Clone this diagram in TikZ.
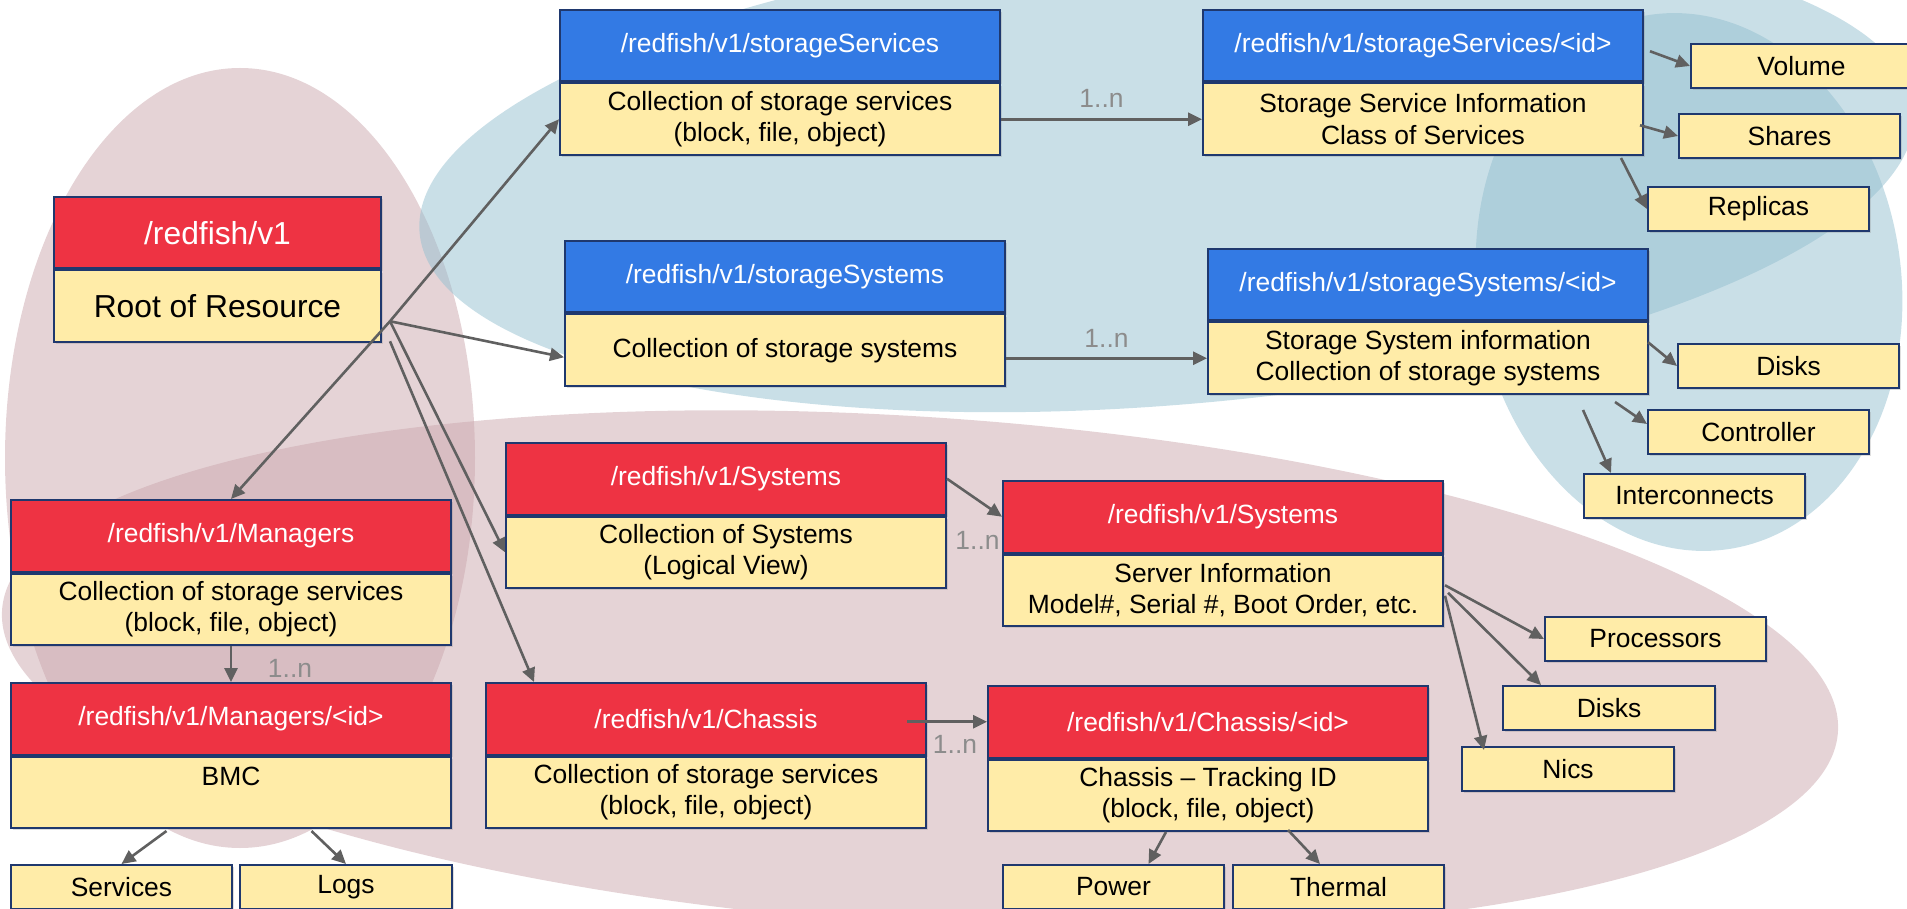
\documentclass[tikz,border=0pt]{standalone}
\usepackage{fontspec}
\setmainfont{Liberation Sans}
\usetikzlibrary{arrows.meta, positioning, shadows}
\definecolor{rfred}{RGB}{238,51,67}
\definecolor{rfblue}{RGB}{51,122,228}
\definecolor{rfbody}{RGB}{255,236,168}
\definecolor{rfedge}{RGB}{31,56,110}
\definecolor{rfline}{RGB}{96,96,96}
\definecolor{rfcount}{RGB}{140,140,140}
\definecolor{bgpink}{RGB}{203,168,174}
\definecolor{bgblue}{RGB}{148,191,207}
\tikzstyle{redfish}=[x=0.5pt, y=-0.5pt, >={Triangle[length=7pt,width=6.5pt]}, font=\fontsize{13.2}{15.8}\selectfont]
\tikzstyle{resbox}=[draw=rfedge, line width=1pt, minimum width=220pt, minimum height=35.75pt, inner sep=2pt, align=center, drop shadow={shadow xshift=1.2pt, shadow yshift=-1.2pt, opacity=.25}]
\tikzstyle{hdr}=[resbox, fill=rfred, text=white, anchor=north west]
\tikzstyle{bluehdr}=[hdr, fill=rfblue]
\tikzstyle{bdy}=[resbox, fill=rfbody]
\tikzstyle{leaf}=[resbox, fill=rfbody, minimum width=110.5pt, minimum height=22pt, anchor=north west]
\tikzstyle{link}=[->, draw=rfline, line width=1.3pt]
\tikzstyle{multi}=[text=rfcount]
\tikzstyle{blob}=[fill opacity=.5]

\begin{document}
\begin{tikzpicture}[redfish]
  \useasboundingbox (0,0) rectangle (1907,909);
  \clip (0,0) rectangle (1907,909);
  % background areas
  \fill[blob, bgpink] (240,458) ellipse [x radius=117.5pt, y radius=195pt];
  \fill[blob, bgpink, rotate around={-3.8:(920,671)}] (920,671) ellipse [x radius=460pt, y radius=127pt];
  \fill[blob, bgblue, rotate around={4.7:(1167,171)}] (1167,171) ellipse [x radius=375pt, y radius=117pt];
  \fill[blob, bgblue, rotate around={8.3:(1689,282)}] (1689,282) ellipse [x radius=106pt, y radius=135pt];

  % resources
  \node[hdr, minimum width=163.5pt, font=\fontsize{15.9}{19}\selectfont] (rooth) at (53,196) {/redfish/v1};
  \node[bdy, minimum width=163.5pt, font=\fontsize{15.9}{19}\selectfont] (root) [below=0pt of rooth] {Root of Resource};

  \node[bluehdr] (svch) at (559,9) {/redfish/v1/storageServices};
  \node[bdy] (svc) [below=0pt of svch] {Collection of storage services\\(block, file, object)};
  \node[bluehdr] (sysh) at (564,240) {/redfish/v1/storageSystems};
  \node[bdy] (sys) [below=0pt of sysh] {Collection of storage systems};
  \node[bluehdr] (svcidh) at (1202,9) {/redfish/v1/storageServices/<id>};
  \node[bdy] (svcid) [below=0pt of svcidh] {Storage Service Information\\Class of Services};
  \node[bluehdr] (sysidh) at (1207,248) {/redfish/v1/storageSystems/<id>};
  \node[bdy] (sysid) [below=0pt of sysidh] {Storage System information\\Collection of storage systems};

  \node[hdr] (mgrh) at (10,499) {/redfish/v1/Managers};
  \node[bdy] (mgr) [below=0pt of mgrh] {Collection of storage services\\(block, file, object)};
  \node[hdr] (mgridh) at (10,682) {/redfish/v1/Managers/<id>};
  \node[bdy] (mgrid) [below=0pt of mgridh] {BMC\\~};
  \node[hdr] (sysch) at (505,442) {/redfish/v1/Systems};
  \node[bdy] (sysc) [below=0pt of sysch] {Collection of Systems\\(Logical View)};
  \node[hdr] (chash) at (485,682) {/redfish/v1/Chassis};
  \node[bdy] (chas) [below=0pt of chash] {Collection of storage services\\(block, file, object)};
  \node[hdr] (srvh) at (1002,480) {/redfish/v1/Systems};
  \node[bdy] (srv) [below=0pt of srvh] {Server Information\\Model\#, Serial \#, Boot Order, etc.};
  \node[hdr] (chasidh) at (987,685) {/redfish/v1/Chassis/<id>};
  \node[bdy] (chasid) [below=0pt of chasidh] {Chassis \textendash{} Tracking ID\\(block, file, object)};

  % leaves
  \node[leaf] (volume) at (1690,43) {Volume};
  \node[leaf] (shares) at (1678,113) {Shares};
  \node[leaf] (replicas) at (1647,186) {Replicas};
  \node[leaf] (disks) at (1677,343) {Disks};
  \node[leaf] (ctrl) at (1647,409) {Controller};
  \node[leaf] (icon) at (1583,473) {Interconnects};
  \node[leaf] (proc) at (1544,616) {Processors};
  \node[leaf, minimum width=106pt] (disks2) at (1502,685) {Disks};
  \node[leaf, minimum width=106pt] (nics) at (1461,746) {Nics};
  \node[leaf] (services) at (10,864) {Services};
  \node[leaf, minimum width=106pt] (logs) at (239,864) {Logs};
  \node[leaf] (power) at (1002,864) {Power};
  \node[leaf, minimum width=105.5pt] (thermal) at (1232,864) {Thermal};

  % links
  \coordinate (hub) at ([shift={(8,15)}]root.east);
  \coordinate (hub2) at ([shift={(8,35)}]root.east);
  \draw[link] (hub) -- (svc.west);
  \draw[link] (hub) -- (mgrh.north);
  \draw[link] (hub) -- ([shift={(0,7)}]sys.west);
  \draw[link] (hub) -- (sysc.west);
  \draw[link] (hub2) -- ([shift={(49,0)}]chash.north west);
  \draw[link] (svc.east) -- node[multi, yshift=10.5pt] {1..n} (svcid.west);
  \draw[link] (sys.east |- sysid.west) -- node[multi, yshift=10pt] {1..n} (sysid.west);
  \draw[link] ([shift={(6,5.5)}]svcidh.east) -- (volume.west);
  \draw[link] ([shift={(-4,6)}]svcid.east) -- (shares.west);
  \draw[link] ([shift={(-23,2)}]svcid.south east) -- (replicas.west);
  \draw[link] ([shift={(-1,-16)}]sysid.east) -- (disks.west);
  \draw[link] ([shift={(-34,7)}]sysid.south east) -- ([shift={(0,-8)}]ctrl.west);
  \draw[link] ([shift={(-66,15)}]sysid.south east) -- ([shift={(28,0)}]icon.north west);
  \draw[link] (mgr.south) -- node[multi, xshift=29.5pt, yshift=-2pt] {1..n} (mgridh.north);
  \draw[link] ([shift={(-64.5,2)}]mgrid.south) -- (services.north);
  \draw[link] ([shift={(80.5,2)}]mgrid.south) -- (logs.north);
  \draw[link] (sysch.east) -- node[multi, xshift=1.5pt, yshift=-21.5pt] {1..n} (srvh.west);
  \draw[link] ([xshift=-10pt]chash.east |- chasidh.west) -- node[multi, xshift=4pt, yshift=-11.5pt] {1..n} (chasidh.west);
  \draw[link] ([shift={(1,-5)}]srv.east) -- (proc.west);
  \draw[link] ([shift={(4,2.5)}]srv.east) -- ([shift={(39,0)}]disks2.north west);
  \draw[link] ([shift={(1,5.5)}]srv.east) -- ([shift={(23,4)}]nics.north west);
  \draw[link] ([shift={(-42,0)}]chasid.south) -- ([shift={(35,0)}]power.north);
  \draw[link] ([shift={(80,-2)}]chasid.south) -- ([shift={(-18.5,0)}]thermal.north);
\end{tikzpicture}
\end{document}
